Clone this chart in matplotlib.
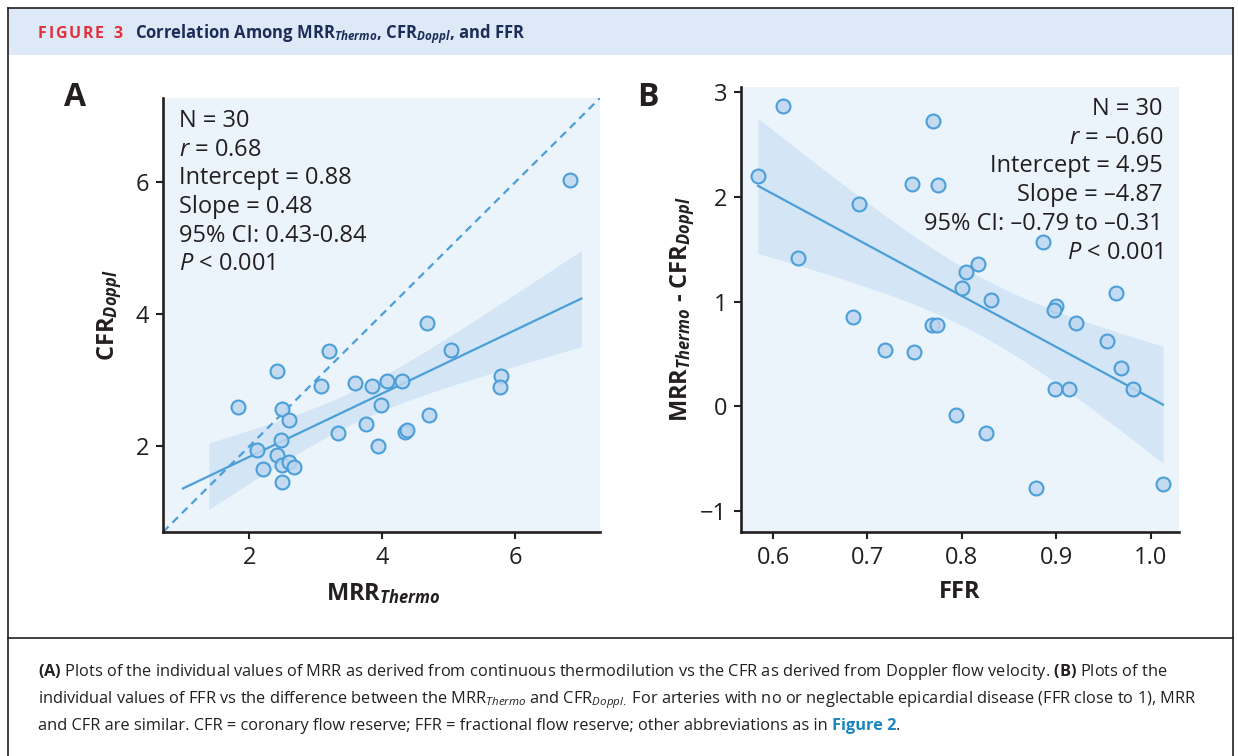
import numpy as np
import matplotlib.pyplot as plt
from matplotlib.patches import Rectangle
from matplotlib.lines import Line2D

plt.rcParams['font.family'] = ['Open Sans', 'DejaVu Sans']
plt.rcParams['mathtext.fontset'] = 'custom'
plt.rcParams['mathtext.rm'] = 'Open Sans'
plt.rcParams['mathtext.it'] = 'Open Sans:italic'
plt.rcParams['mathtext.bf'] = 'Open Sans:bold'
plt.rcParams['mathtext.bfit'] = 'Open Sans:italic:bold'

W, H = 1238, 756

# panel A: MRR by thermodilution vs CFR by Doppler
mrr_thermo = [6.83, 4.68, 3.20, 5.04, 2.41, 3.08, 3.59, 3.85, 4.08, 4.30,
              5.79, 5.77, 1.83, 2.49, 2.59, 3.98, 4.70, 3.34, 3.75, 4.34,
              4.37, 3.93, 2.48, 2.12, 2.41, 2.20, 2.49, 2.60, 2.67, 2.49]
cfr_doppl = [6.03, 3.87, 3.44, 3.46, 3.14, 2.91, 2.96, 2.92, 2.99, 2.99,
             3.06, 2.90, 2.60, 2.56, 2.40, 2.62, 2.48, 2.20, 2.33, 2.22,
             2.24, 2.00, 2.10, 1.95, 1.87, 1.66, 1.71, 1.76, 1.68, 1.46]
intercept_a, slope_a = 0.88, 0.48
stats_a = ["N = 30", "$r$ = 0.68", "Intercept = 0.88", "Slope = 0.48",
           "95% CI: 0.43-0.84", "$P$ < 0.001"]

# panel B: FFR vs MRR - CFR
ffr = [0.611, 0.584, 0.691, 0.626, 0.685, 0.719, 0.749, 0.769, 0.747, 0.775,
       0.768, 0.774, 0.800, 0.804, 0.817, 0.831, 0.794, 0.826, 0.886, 0.900,
       0.898, 0.921, 0.899, 0.913, 0.878, 0.963, 0.954, 0.969, 0.981, 1.013]
mrr_minus_cfr = [2.87, 2.20, 1.93, 1.42, 0.85, 0.54, 0.52, 2.73, 2.12, 2.11,
                 0.78, 0.78, 1.13, 1.28, 1.36, 1.02, -0.08, -0.25, 1.57, 0.96,
                 0.92, 0.80, 0.17, 0.17, -0.78, 1.08, 0.62, 0.37, 0.17, -0.74]
intercept_b, slope_b = 4.95, -4.87
stats_b = ["N = 30", "$r$ = \u20130.60", "Intercept = 4.95", "Slope = \u20134.87",
           "95% CI: \u20130.79 to \u20130.31", "$P$ < 0.001"]

LINE = '#4b9fd9'
FACE = (0.74, 0.84, 0.94, 0.85)
BAND = '#d4e5f5'
AXBG = '#ebf3fb'
INK = '#231f20'


def ci_band(x, y, b0, b1, xs):
    x = np.asarray(x)
    y = np.asarray(y)
    n = len(x)
    resid = y - (b0 + b1 * x)
    s = np.sqrt(np.sum(resid ** 2) / (n - 2))
    se = s * np.sqrt(1 / n + (xs - x.mean()) ** 2 / np.sum((x - x.mean()) ** 2))
    yhat = b0 + b1 * xs
    return yhat - 2.048 * se, yhat + 2.048 * se


def style_axes(ax):
    ax.set_facecolor(AXBG)
    for side in ['top', 'right']:
        ax.spines[side].set_visible(False)
    for side in ['left', 'bottom']:
        ax.spines[side].set_linewidth(1.9)
        ax.spines[side].set_color(INK)
    ax.tick_params(direction='out', length=5, width=1.5, color=INK,
                   labelsize=17, labelcolor=INK, pad=5)


def box(l, t, r, b):
    return [l / W, 1 - b / H, (r - l) / W, (b - t) / H]


fig = plt.figure(figsize=(W / 100, H / 100), dpi=100)
renderer = fig.canvas.get_renderer()

# frame and header
fig.add_artist(Rectangle((8 / W, 1 - 55 / H), (1233 - 8) / W, 47 / H,
                         transform=fig.transFigure, facecolor='#dde9f6',
                         edgecolor='none'))
for xs, ys in [([8, 8], [8, H]), ([1233, 1233], [8, H]), ([8, 1233], [8, 8]),
               ([8, 1233], [638, 638])]:
    fig.add_artist(Line2D([v / W for v in xs], [1 - v / H for v in ys],
                          transform=fig.transFigure, color=INK, lw=1.2))

# tracked "FIGURE 3"
x = 38
for ch in "FIGURE 3":
    t = fig.text(x / W, 1 - 38 / H, ch, color='#e2313c', fontsize=11.5,
                 fontweight='bold', va='baseline')
    x = t.get_window_extent(renderer).x1 + 1.6
    if ch == ' ':
        x += 3
fig.text((x + 11) / W, 1 - 38 / H,
         r"Correlation Among MRR$_{\mathbfit{Thermo}}$, CFR$_{\mathbfit{Doppl}}$, and FFR",
         color='#1c2d59', fontsize=12, fontweight='bold', va='baseline')

# panel A
axA = fig.add_axes(box(163, 98, 600, 532))
style_axes(axA)
lims = (0.70, 7.28)
axA.plot(lims, lims, ls=(0, (3.5, 2.5)), color=LINE, lw=1.6, zorder=2)
xs = np.linspace(1.39, 7.0, 100)
lo, hi = ci_band(mrr_thermo, cfr_doppl, intercept_a, slope_a, xs)
axA.fill_between(xs, lo, hi, color=BAND, lw=0, zorder=1)
xl = np.array([1.0, 7.0])
axA.plot(xl, intercept_a + slope_a * xl, color=LINE, lw=1.6, zorder=3)
axA.scatter(mrr_thermo, cfr_doppl, s=100, facecolor=FACE, edgecolor=LINE,
            linewidth=1.5, zorder=4)
axA.set_xlim(lims)
axA.set_ylim(lims)
axA.set_xticks([2, 4, 6])
axA.set_yticks([2, 4, 6])
for i, s in enumerate(stats_a):
    fig.text(179 / W, 1 - (127 + 28.7 * i) / H, s, fontsize=17, color=INK,
             va='baseline')

# panel B
axB = fig.add_axes(box(741, 87, 1179, 532))
style_axes(axB)
xs = np.linspace(min(ffr), max(ffr), 100)
lo, hi = ci_band(ffr, mrr_minus_cfr, intercept_b, slope_b, xs)
axB.fill_between(xs, lo, hi, color=BAND, lw=0, zorder=1)
xl = np.array([min(ffr), max(ffr)])
axB.plot(xl, intercept_b + slope_b * xl, color=LINE, lw=1.6, zorder=3)
axB.scatter(ffr, mrr_minus_cfr, s=100, facecolor=FACE, edgecolor=LINE,
            linewidth=1.5, zorder=4)
axB.set_xlim(0.566, 1.030)
axB.set_ylim(-1.2, 3.05)
axB.set_xticks([0.6, 0.7, 0.8, 0.9, 1.0])
axB.set_xticklabels(['0.6', '0.7', '0.8', '0.9', '1.0'])
axB.set_yticks([-1, 0, 1, 2, 3])
axB.set_yticklabels(['\u22121', '0', '1', '2', '3'])
for i, s in enumerate(stats_b):
    fig.text(1163 / W, 1 - (115 + 28.7 * i) / H, s, fontsize=17, color=INK,
             va='baseline', ha='right')

# panel letters and axis labels
fig.text(75 / W, 1 - 97 / H, "A", fontsize=23, fontweight='bold', color=INK,
         ha='center', va='center')
fig.text(648 / W, 1 - 97 / H, "B", fontsize=23, fontweight='bold', color=INK,
         ha='center', va='center')
fig.text(383 / W, 1 - 594 / H, r"MRR$_{\mathbfit{Thermo}}$", fontsize=17,
         fontweight='bold', color=INK, ha='center', va='center')
fig.text(960 / W, 1 - 592 / H, "FFR", fontsize=17, fontweight='bold',
         color=INK, ha='center', va='center')
fig.text(110 / W, 1 - 315 / H, r"CFR$_{\mathbfit{Doppl}}$", fontsize=17,
         fontweight='bold', color=INK, ha='center', va='center', rotation=90)
fig.text(683 / W, 1 - 309 / H,
         r"MRR$_{\mathbfit{Thermo}}$ - CFR$_{\mathbfit{Doppl}}$", fontsize=17,
         fontweight='bold', color=INK, ha='center', va='center', rotation=90)

# caption
cap = [
    r"$\mathbf{(A)}$ Plots of the individual values of MRR as derived from continuous thermodilution vs the CFR as derived from Doppler flow velocity. $\mathbf{(B)}$ Plots of the",
    r"individual values of FFR vs the difference between the MRR$_{\mathit{Thermo}}$ and CFR$_{\mathit{Doppl.}}$ For arteries with no or neglectable epicardial disease (FFR close to 1), MRR",
    r"and CFR are similar. CFR = coronary flow reserve; FFR = fractional flow reserve; other abbreviations as in",
]
for i, s in enumerate(cap):
    t = fig.text(38 / W, 1 - (676 + 27 * i) / H, s, fontsize=11.8, color=INK,
                 va='baseline')
bb = t.get_window_extent(renderer)
t2 = fig.text(bb.x1 / W + 4 / W, 1 - (676 + 54) / H, "Figure 2", fontsize=11.8,
              color='#1a86c0', fontweight='bold', va='baseline')
bb = t2.get_window_extent(renderer)
fig.text(bb.x1 / W, 1 - (676 + 54) / H, ".", fontsize=11.8, color=INK,
         va='baseline')

fig.savefig('out.png', dpi=100)
